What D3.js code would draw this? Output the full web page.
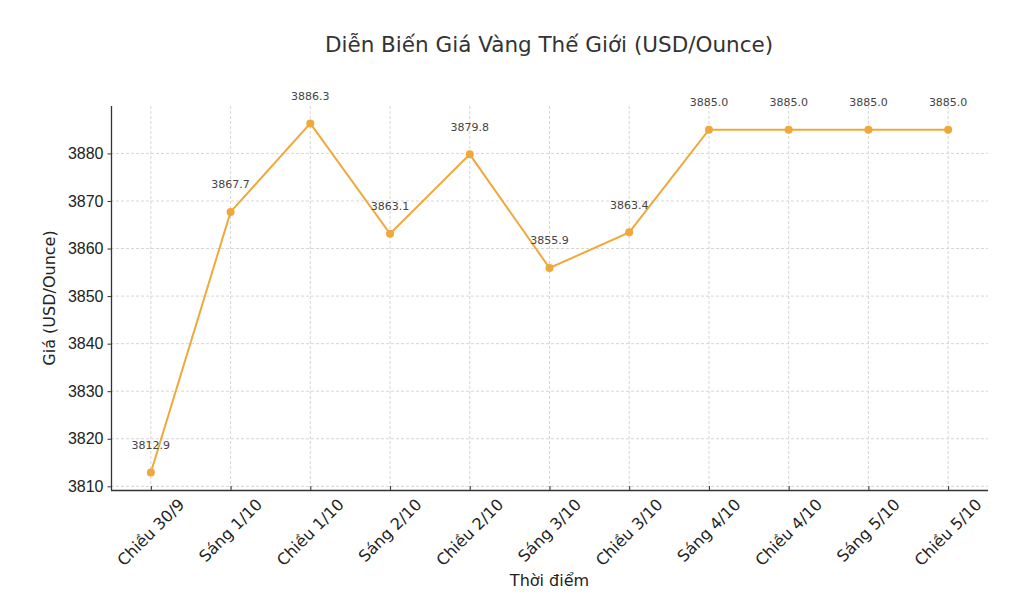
<!DOCTYPE html>
<head>
    <meta charset="utf-8">
    <script src="https://d3js.org/d3.v7.min.js"></script>
    <style>
        body {
            margin: 0;
            font-family: "DejaVu Sans", sans-serif;
        }
        .grid-line {
            stroke: #cccccc;
            stroke-dasharray: 3,2;
            stroke-width: 0.8px;
        }
        .axis path, .axis line {
            stroke: #333;
        }
        .axis text {
            fill: #222;
            font-size: 16px;
        }
        .point-label {
            font-size: 11px;
            fill: #444;
            text-anchor: middle;
        }
    </style>
</head>
<body>
<script>
    var categories = ["Chiều 30/9", "Sáng 1/10", "Chiều 1/10", "Sáng 2/10", "Chiều 2/10",
        "Sáng 3/10", "Chiều 3/10", "Sáng 4/10", "Chiều 4/10", "Sáng 5/10", "Chiều 5/10"];
    var prices = [3812.9, 3867.7, 3886.3, 3863.1, 3879.8, 3855.9, 3863.4, 3885.0, 3885.0, 3885.0, 3885.0];
    var yTicks = [3810, 3820, 3830, 3840, 3850, 3860, 3870, 3880];

    var W = 1012, H = 600;
    var margin = {top: 106, right: 24, bottom: 110, left: 111};
    var width = W - margin.left - margin.right,
        height = H - margin.top - margin.bottom;

    var svg = d3.select("body").append("svg")
        .attr("width", W)
        .attr("height", H);

    svg.append("text")
        .attr("x", 549)
        .attr("y", 52)
        .attr("text-anchor", "middle")
        .style("font-size", "21.5px")
        .style("fill", "#333")
        .text("Diễn Biến Giá Vàng Thế Giới (USD/Ounce)");

    var g = svg.append("g")
        .attr("transform", "translate(" + margin.left + "," + margin.top + ")");

    var x = d3.scaleLinear()
        .domain([-0.5, categories.length - 0.5])
        .range([0, width]);

    var lo = d3.min(prices), hi = d3.max(prices), pad = (hi - lo) * 0.05;
    var y = d3.scaleLinear()
        .domain([lo - pad, hi + pad])
        .range([height, 0]);

    // grid
    g.append("g").selectAll("line")
        .data(d3.range(categories.length))
        .enter().append("line")
        .attr("class", "grid-line")
        .attr("x1", function(d) { return x(d); })
        .attr("x2", function(d) { return x(d); })
        .attr("y1", 0)
        .attr("y2", height);

    g.append("g").selectAll("line")
        .data(yTicks)
        .enter().append("line")
        .attr("class", "grid-line")
        .attr("x1", 0)
        .attr("x2", width)
        .attr("y1", function(d) { return y(d); })
        .attr("y2", function(d) { return y(d); });

    // axes
    var yAxis = d3.axisLeft(y).tickValues(yTicks).tickSize(3.5).tickPadding(4).tickFormat(d3.format("d"));
    var yG = g.append("g").attr("class", "axis").call(yAxis);
    yG.select(".domain").attr("d", "M0.5," + height + "V0").style("stroke-width", "1.3px");

    var xAxis = d3.axisBottom(x).tickValues(d3.range(categories.length)).tickSize(-4).tickFormat("");
    var xG = g.append("g").attr("class", "axis")
        .attr("transform", "translate(0," + height + ")")
        .call(xAxis);
    xG.select(".domain").attr("d", "M0,0.5H" + width).style("stroke-width", "1.3px");

    // rotated category labels, box centered on tick
    var labels = g.append("g").attr("class", "axis");
    categories.forEach(function(c, i) {
        var t = labels.append("text")
            .attr("text-anchor", "middle")
            .attr("dominant-baseline", "central")
            .text(c);
        var L = t.node().getComputedTextLength();
        var cy = height + 6 + (L * 0.7071 + 16 * 0.7071) / 2;
        t.attr("transform", "translate(" + x(i) + "," + cy + ") rotate(-45)");
    });

    // axis titles
    svg.append("text")
        .attr("x", margin.left + width / 2)
        .attr("y", 586)
        .attr("text-anchor", "middle")
        .style("font-size", "16px")
        .style("fill", "#222")
        .text("Thời điểm");

    svg.append("text")
        .attr("transform", "translate(55," + (margin.top + height / 2) + ") rotate(-90)")
        .attr("text-anchor", "middle")
        .style("font-size", "16px")
        .style("fill", "#222")
        .text("Giá (USD/Ounce)");

    // line
    var line = d3.line()
        .x(function(d, i) { return x(i); })
        .y(function(d) { return y(d); });

    g.append("path")
        .datum(prices)
        .attr("d", line)
        .attr("fill", "none")
        .attr("stroke", "#f0a83a")
        .attr("stroke-width", 2);

    g.selectAll("circle")
        .data(prices)
        .enter().append("circle")
        .attr("cx", function(d, i) { return x(i); })
        .attr("cy", function(d) { return y(d); })
        .attr("r", 4)
        .attr("fill", "#f0a83a");

    g.selectAll(".point-label")
        .data(prices)
        .enter().append("text")
        .attr("class", "point-label")
        .attr("x", function(d, i) { return x(i); })
        .attr("y", function(d) { return y(d + 5); })
        .text(function(d) { return d.toFixed(1); });
</script>
</body>
</html>
